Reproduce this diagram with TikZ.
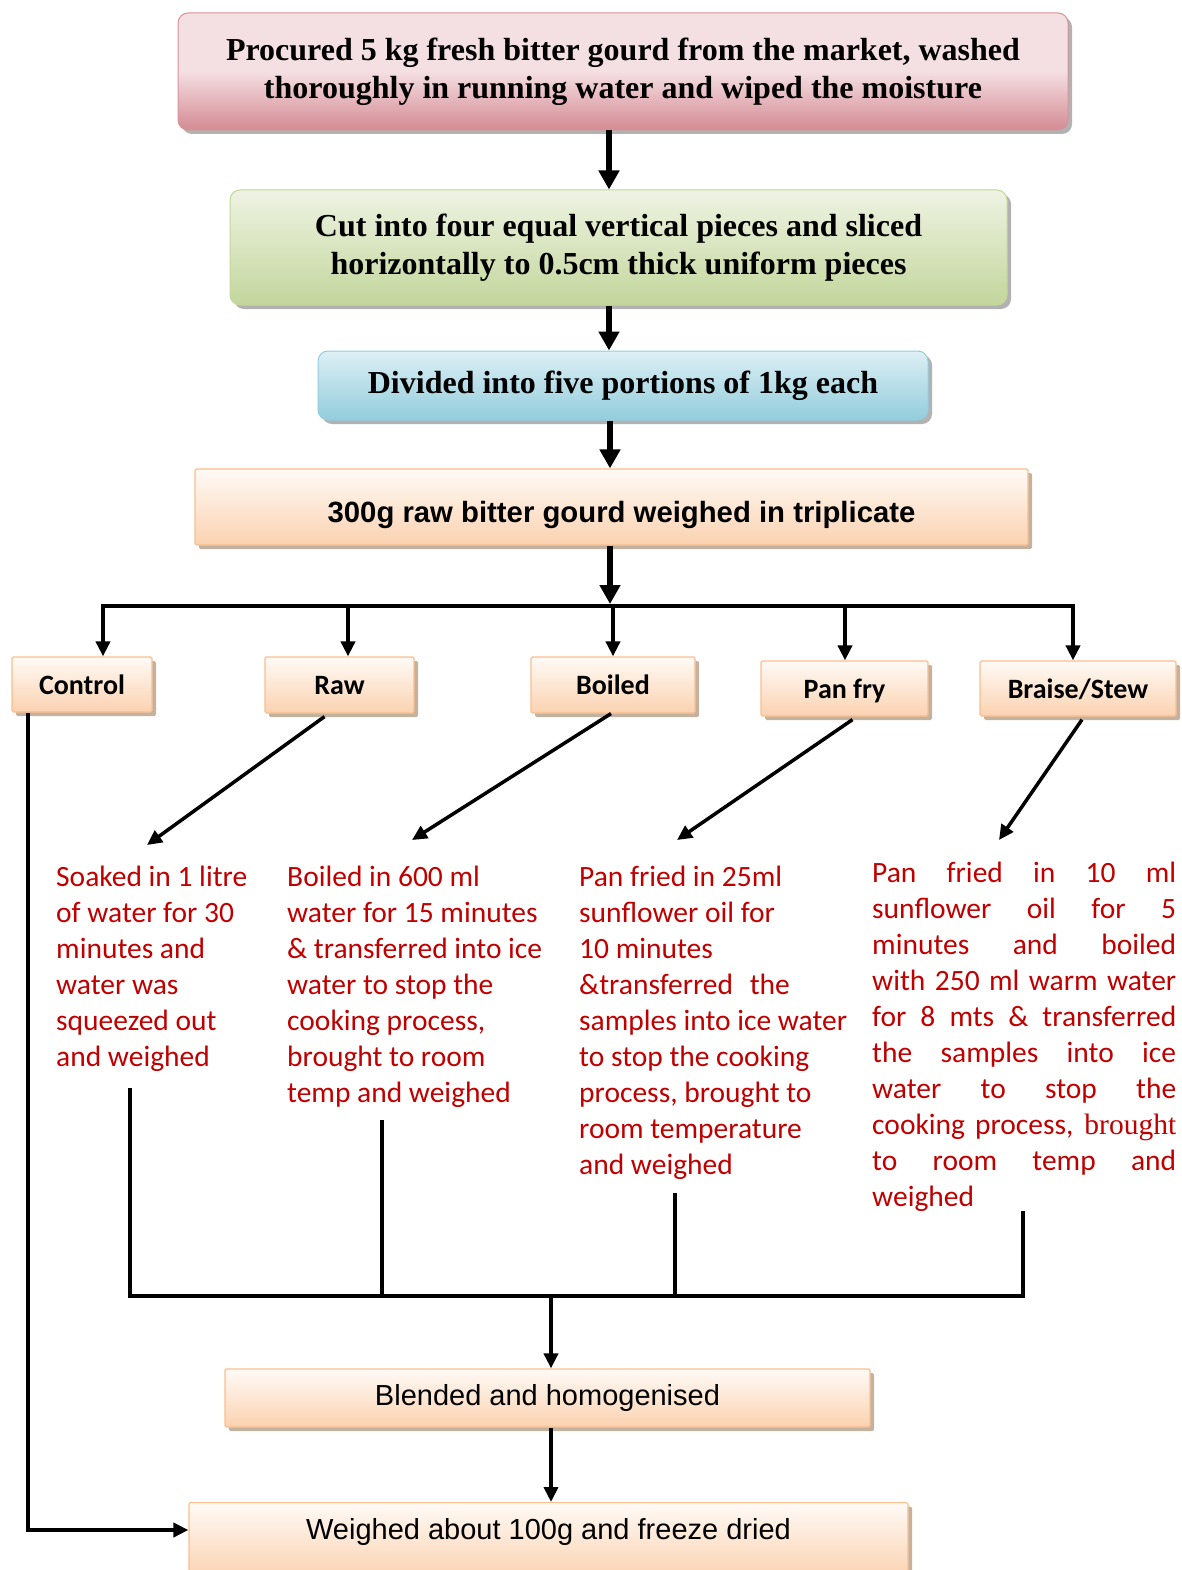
\documentclass[tikz,border=0pt]{standalone}
\usepackage{fontspec}
\setmainfont{Carlito}
\newfontfamily\tnr{Liberation Serif}
\newfontfamily\ari{Liberation Sans}
\usetikzlibrary{arrows.meta,shadows,calc}
\definecolor{redD}{HTML}{D48A93}
\definecolor{redL}{HTML}{F4DFE2}
\definecolor{redB}{HTML}{D8939A}
\definecolor{grnD}{HTML}{C3D69B}
\definecolor{grnL}{HTML}{EEF3E3}
\definecolor{bluD}{HTML}{93CDDD}
\definecolor{bluL}{HTML}{DDEFF5}
\definecolor{orgD}{HTML}{FBD2B0}
\definecolor{orgL}{HTML}{FFFAF6}
\definecolor{orgB}{HTML}{F9BF8F}
\definecolor{txtred}{HTML}{C00000}
\tikzset{
  shad/.style={drop shadow={shadow xshift=4pt,shadow yshift=-4pt,fill=black!30,opacity=1}},
  topbox/.style={shad,rounded corners=10pt,draw=redB,line width=1pt,top color=redL,bottom color=redD,middle color=redL,
     font=\tnr\bfseries\fontsize{32}{38}\selectfont,align=center,inner sep=0pt},
  grnbox/.style={shad,rounded corners=10pt,draw=grnD,line width=1pt,top color=grnL,bottom color=grnD,
     font=\tnr\bfseries\fontsize{32}{38}\selectfont,align=center,inner sep=0pt},
  blubox/.style={shad,rounded corners=10pt,draw=bluD,line width=1pt,top color=bluL,bottom color=bluD,
     font=\tnr\bfseries\fontsize{32}{38}\selectfont,align=center,inner sep=0pt},
  orgbox/.style={drop shadow={shadow xshift=4pt,shadow yshift=-4pt,fill=brown!45!gray!60,opacity=1},
     rounded corners=1.5pt,draw=orgB,line width=1.2pt,top color=orgL,bottom color=orgD,inner sep=0pt,align=center},
  lab/.style={orgbox,font=\bfseries\fontsize{28}{32}\selectfont,text height=22pt,text depth=3pt},
  redtxt/.style={text=txtred,font=\fontsize{29.5}{36}\selectfont,align=left,inner sep=0pt,anchor=north west},
  arr/.style={line width=6.5pt,-{Triangle[length=19pt,width=20pt]}},
  arrs/.style={line width=4pt,-{Triangle[length=15pt,width=14pt]}},
  arrd/.style={line width=3.5pt,-{Triangle[length=15pt,width=14pt]}},
  ln/.style={line width=4pt},
}
\begin{document}
\begin{tikzpicture}[x=1pt,y=-1pt]
\useasboundingbox (0,0) rectangle (1181,1570);
% main boxes
\node[topbox,minimum width=890pt,minimum height=117pt] (p1) at (623,71.5)
  {Procured 5 kg fresh bitter gourd from the market, washed\\thoroughly in running water and wiped the moisture};
\node[grnbox,minimum width=777pt,minimum height=115pt] (p2) at (618.5,247.5)
  {Cut into four equal vertical pieces and sliced\\horizontally to 0.5cm thick uniform pieces};
\node[blubox,minimum width=610pt,minimum height=69pt] (p3) at (623,385.5)
  {Divided into five portions of 1kg each};
\node[orgbox,font=\ari\bfseries\fontsize{29.3}{34}\selectfont,minimum width=833pt,minimum height=76pt,text height=32pt,text depth=1pt] (p4) at (611.5,507)
  {\hspace*{20pt}300g raw bitter gourd weighed in triplicate};
% branch labels
\node[lab,minimum width=140pt,minimum height=55pt] (c1) at (82,684.5) {Control};
\node[lab,minimum width=149pt,minimum height=56pt] (c2) at (339.5,685) {Raw};
\node[lab,minimum width=164pt,minimum height=56pt] (c3) at (613,685) {Boiled};
\node[lab,minimum width=167pt,minimum height=55pt] (c4) at (844.5,688.5) {Pan fry};
\node[lab,minimum width=196pt,minimum height=55pt] (c5) at (1078,688.5) {Braise/Stew};
% texts
\node[redtxt] (t1) at (56,866) {Soaked in 1 litre\\of water for 30\\minutes and\\water was\\squeezed out\\and weighed};
\node[redtxt] (t2) at (287,866) {Boiled in 600 ml\\water for 15 minutes\\\& transferred into ice\\water to stop the\\cooking process,\\brought to room\\temp and weighed};
\node[redtxt] (t3) at (579,866) {Pan fried in 25ml\\sunflower oil for\\10 minutes\\\&transferred\hspace{10pt} the\\samples into ice water\\to stop the cooking\\process, brought to\\room temperature\\and weighed};
\node[redtxt] (t4) at (872,862) {\makebox[304pt][s]{Pan fried in 10 ml}\\\makebox[304pt][s]{sunflower oil for 5}\\\makebox[304pt][s]{minutes and boiled}\\\makebox[304pt][s]{with 250 ml warm water}\\\makebox[304pt][s]{for 8 mts \& transferred}\\\makebox[304pt][s]{the samples into ice}\\\makebox[304pt][s]{water to stop the}\\\makebox[304pt][s]{cooking process, {\tnr brought}}\\\makebox[304pt][s]{to room temp and}\\weighed};
% lower boxes
\node[orgbox,font=\ari\fontsize{29}{34}\selectfont,minimum width=645pt,minimum height=58pt] (b1) at (547.5,1398)
  {Blended and homogenised};
\node[orgbox,font=\ari\fontsize{29}{34}\selectfont,minimum width=719pt,minimum height=76pt,anchor=north,text height=21pt,text depth=24pt] (b2) at (548.5,1502)
  {Weighed about 100g and freeze dried};
% coordinates
\coordinate (ax) at (609,0);
\coordinate (bus) at (610,606);
\coordinate (d1) at (103,606);
\coordinate (d2) at (348,606);
\coordinate (d3) at (613,606);
\coordinate (d4) at (845,606);
\coordinate (d5) at (1073,606);
\coordinate (e1) at (147,845);
\coordinate (e2) at (412,840);
\coordinate (e3) at (677,840);
\coordinate (e4) at (999,840);
\coordinate (v1) at (130,1088);
\coordinate (v2) at (382,1120);
\coordinate (v3) at (675,1193);
\coordinate (v4) at (1023,1211);
\coordinate (m) at (551,1296);
\coordinate (cl) at (28,1530);
% vertical chain
\draw[arr] (p1.south -| ax) -- (p2.north -| ax);
\draw[arr] (p2.south -| ax) -- (p3.north -| ax);
\draw[arr] (p3.south -| bus) -- (p4.north -| bus);
\draw[arr] (p4.south -| bus) -- ($(bus)+(0,-2)$);
% bus
\draw[ln] ($(d1)+(0,2)$) -- (d1) -- (d5) -- ($(d5)+(0,2)$);
\draw[arrs] (d1) -- (d1 |- c1.north);
\draw[arrs] (d2) -- (d2 |- c2.north);
\draw[arrs] (d3) -- (d3 |- c3.north);
\draw[arrs] (d4) -- (d4 |- c4.north);
\draw[arrs] (d5) -- (d5 |- c5.north);
% diagonals
\draw[arrd] ($(c2.south)+(-15,3)$) -- (e1);
\draw[arrd] ($(c3.south)+(-2,0)$) -- (e2);
\draw[arrd] ($(c4.south)+(8,3)$) -- (e3);
\draw[arrd] ($(c5.south)+(4,3)$) -- (e4);
% merge
\draw[ln] (v1) -- (v1 |- m) -- (v4 |- m) -- (v4);
\draw[ln] (v2) -- (v2 |- m);
\draw[ln] (v3) -- (v3 |- m);
\draw[arrs] (m) -- (m |- b1.north);
\draw[arrs] (m |- b1.south) -- (m |- b2.north);
% control bypass
\draw[arrs] (c1.south -| cl) -- (cl) -- (cl -| b2.west);
\end{tikzpicture}
\end{document}
